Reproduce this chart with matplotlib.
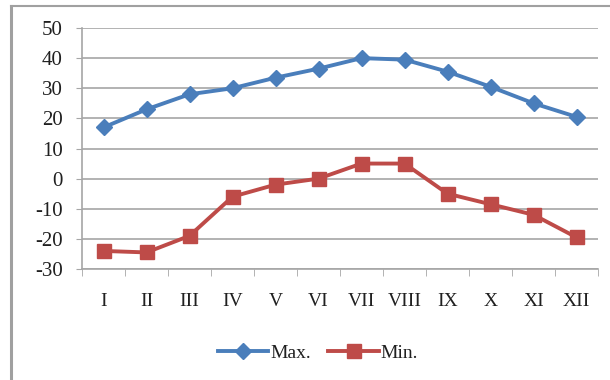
import matplotlib

matplotlib.use("Agg")
import matplotlib.pyplot as plt
from matplotlib.lines import Line2D

months = ["I", "II", "III", "IV", "V", "VI", "VII", "VIII", "IX", "X", "XI", "XII"]
t_max = [17, 23, 28, 30, 33.5, 36.5, 40, 39.5, 35.5, 30.5, 25, 20.5]
t_min = [-24, -24.5, -19, -6, -2, 0, 5, 5, -5, -8.5, -12, -19.5]

BLUE = "#4a7ebb"
RED = "#be4b48"
GRID = "#a6a6a6"
TEXT = "#202020"

plt.rcParams["font.family"] = ["Liberation Serif", "DejaVu Serif"]
plt.rcParams["axes.unicode_minus"] = False

fig = plt.figure(figsize=(6.1, 3.8), dpi=100)
fig.patch.set_facecolor("white")

# outer chart frame: only the left and top edges show
fig.add_artist(Line2D([11 / 610, 11 / 610], [0, 1 - 6 / 380], transform=fig.transFigure,
                      color="#a0a0a0", lw=2.2))
fig.add_artist(Line2D([11 / 610, 1], [1 - 6 / 380, 1 - 6 / 380], transform=fig.transFigure,
                      color="#a0a0a0", lw=1.5))

ax = fig.add_axes([82 / 610, 1 - 269 / 380, 516 / 610, 241 / 380])
x = list(range(len(months)))

ax.plot(x, t_max, color=BLUE, lw=2.8, marker="D", ms=8, label="Max.", zorder=3)
ax.plot(x, t_min, color=RED, lw=2.8, marker="s", ms=10, label="Min.", zorder=3)

ax.set_xlim(-0.5, len(months) - 0.5)
ax.set_ylim(-30, 50)
ax.set_yticks(range(-30, 51, 10))
ax.yaxis.grid(True, color=GRID, lw=1.2)
ax.set_axisbelow(True)

ax.set_xticks(x)
ax.set_xticklabels(months)
ax.set_xticks([i - 0.5 for i in range(len(months) + 1)], minor=True)
ax.tick_params(axis="x", which="major", length=0, pad=17, labelsize=14, labelcolor=TEXT)
ax.tick_params(axis="x", which="minor", length=5, color=GRID, direction="out")
ax.tick_params(axis="y", length=4, color=GRID, labelsize=15, labelcolor=TEXT, pad=10)

for side in ("top", "right"):
    ax.spines[side].set_visible(False)
for side in ("left", "bottom"):
    ax.spines[side].set_color(GRID)
    ax.spines[side].set_linewidth(1.2)

fig.legend(loc="center", bbox_to_anchor=(318 / 610, 1 - 353 / 380), ncol=2, frameon=False,
           fontsize=14, handlelength=2.6, handletextpad=0.1, columnspacing=0.9,
           labelcolor=TEXT)

fig.savefig("out.png", dpi=100)
